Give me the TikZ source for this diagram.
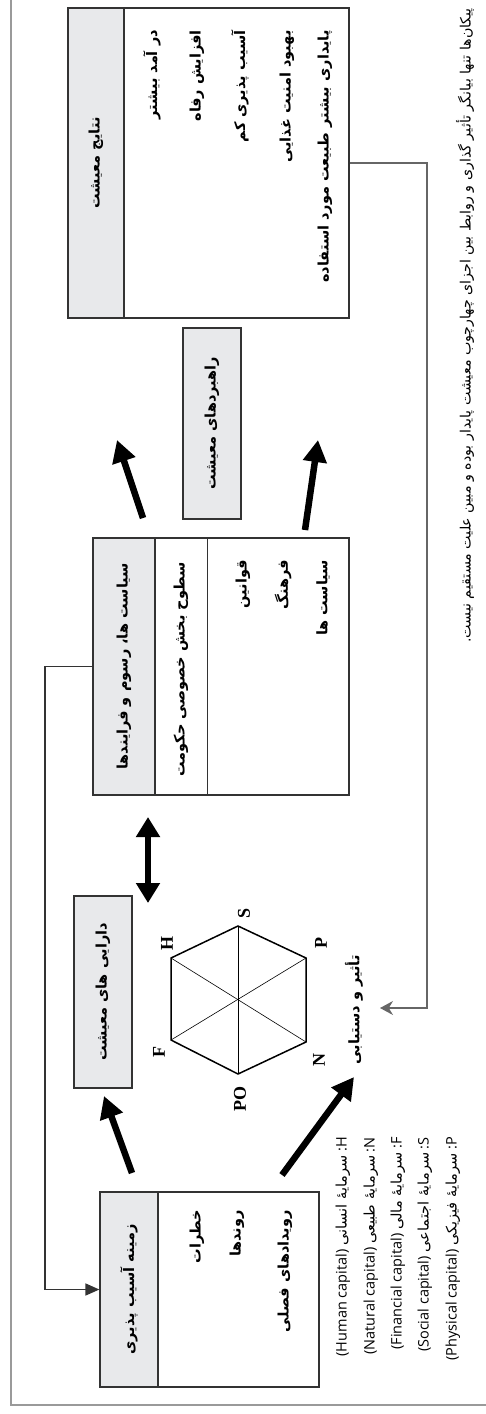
\documentclass[tikz,border=0pt]{standalone}
\usepackage{fontspec}
\setmainfont{Open Sans}
\newfontfamily\farsifont[Script=Arabic]{DejaVu Sans}
\newfontfamily\hexfont{Liberation Serif}
\TeXXeTstate=1
\usetikzlibrary{arrows.meta}
\newcommand{\FA}[1]{{\farsifont\beginR #1\endR}}
\newcommand{\FAB}[1]{{\farsifont\bfseries\beginR #1\endR}}
\definecolor{hdrgray}{HTML}{E8E9EB}
\definecolor{boxline}{HTML}{333333}
\definecolor{framegray}{HTML}{9A9A9A}
\definecolor{conngray}{HTML}{666666}
\begin{document}
\begin{tikzpicture}[x=1pt,y=-1pt,
  box/.style={draw=boxline,line width=1.2pt,inner sep=0pt,fill=white},
  hdr/.style={fill=hdrgray,draw=boxline,line width=1.2pt,inner sep=0pt},
  rt/.style={rotate=90,inner sep=0pt,font=\fontsize{14.5}{16}\selectfont},
  captext/.style={rotate=90,inner sep=0pt,font=\fontsize{14.2}{16}\selectfont},
  leg/.style={rotate=90,inner sep=0pt,font=\fontsize{14.5}{16}\selectfont},
  hexl/.style={rotate=90,inner sep=0pt,font=\hexfont\bfseries\fontsize{18}{18}\selectfont},
  bigarrow/.style={line width=6.5pt,-{Triangle[length=22pt,width=23pt]}},
  bigdouble/.style={line width=6.5pt,{Triangle[length=20pt,width=23pt]}-{Triangle[length=20pt,width=23pt]}},
  conn/.style={line width=1.2pt,conngray,-{Stealth[length=13pt,width=14pt]}},
  conndark/.style={line width=1.5pt,boxline,-{Triangle[length=14pt,width=12pt]}},
  hexedge/.style={line width=1.5pt,black},
  hexdiag/.style={line width=0.6pt,black}
]
\useasboundingbox (0,0) rectangle (485,1414);
% outer frame
\draw[framegray,line width=1.5pt] (11,-5) -- (11,1405) -- (490,1405);

% outcomes box
\node[box,minimum width=281pt,minimum height=310pt] (outcomes) at (208.5,163) {};
\node[hdr,minimum width=56pt,minimum height=310pt,anchor=north west] (outhdr) at (outcomes.north west) {};
\node[rt] (outtitle) at (outhdr.center) {\FAB{نتایج معیشت}};
\node[rt,anchor=east] (o1) at (152,30) {\FAB{در آمد بیشتر}};
\node[rt,anchor=east] (o2) at (197,30) {\FAB{افزایش رفاه}};
\node[rt,anchor=east] (o3) at (240,30) {\FAB{آسیب پذیری کم}};
\node[rt,anchor=east] (o4) at (287,30) {\FAB{بهبود امنیت غذایی}};
\node[rt,anchor=east] (o5) at (325,30) {\FAB{پایداری بیشتر طبیعت مورد استفاده}};

% strategies box
\node[hdr,minimum width=58pt,minimum height=191pt] (strat) at (212,423.5) {};
\node[rt] (strattext) at (strat.center) {\FAB{راهبردهای معیشت}};

% policies box
\node[box,minimum width=256pt,minimum height=257pt] (policies) at (221,666.5) {};
\node[hdr,minimum width=62pt,minimum height=257pt,anchor=north west] (polhdr) at (policies.north west) {};
\draw[boxline,line width=1.2pt] ([xshift=115pt]policies.north west) -- ([xshift=115pt]policies.south west);
\node[rt] (poltitle) at (polhdr.center) {\FAB{سیاست ها، رسوم و فرایندها}};
\node[rt,anchor=east] (p0) at (181,562) {\FAB{سطوح بخش خصوصی حکومت}};
\node[rt,anchor=east] (p1) at (243,560) {\FAB{قوانین}};
\node[rt,anchor=east] (p2) at (283,560) {\FAB{فرهنگ}};
\node[rt,anchor=east] (p3) at (323,560) {\FAB{سیاست ها}};

% assets box
\node[hdr,minimum width=58pt,minimum height=192pt] (assets) at (103,992) {};
\node[rt] (assetstext) at (assets.center) {\FAB{دارایی های معیشت}};

% hexagon
\coordinate (vS) at (238,926);
\coordinate (vP) at (306,958);
\coordinate (vN) at (306,1042);
\coordinate (vPO) at (238,1074);
\coordinate (vF) at (171,1040);
\coordinate (vH) at (171,958);
\draw[hexedge] (vS) -- (vP) -- (vN) -- (vPO) -- (vF) -- (vH) -- cycle;
\draw[hexdiag] (vS) -- (vPO);
\draw[hexdiag] (vH) -- (vN);
\draw[hexdiag] (vF) -- (vP);
\node[hexl] (lS) at (244,913) {S};
\node[hexl] (lH) at (167,943) {H};
\node[hexl] (lP) at (321,943) {P};
\node[hexl] (lF) at (159,1052) {F};
\node[hexl] (lN) at (319,1060) {N};
\node[hexl] (lPO) at (240,1099) {PO};
\node[rt] (access) at (354,1010) {\FAB{تأثیر و دستیابی}};

% vulnerability box
\node[box,minimum width=219pt,minimum height=195pt] (vuln) at (209.5,1289.5) {};
\node[hdr,minimum width=58pt,minimum height=195pt,anchor=north west] (vulnhdr) at (vuln.north west) {};
\node[rt] (vulntitle) at (vulnhdr.center) {\FAB{زمینه آسیب پذیری}};
\node[rt,anchor=east] (v1) at (197,1210) {\FAB{خطرات}};
\node[rt,anchor=east] (v2) at (237,1210) {\FAB{روندها}};
\node[rt,anchor=east] (v3) at (285,1210) {\FAB{رویدادهای فصلی}};

% legend
\node[leg,anchor=east] (l1) at (343,1137) {(Human capital) \FA{سرمایهٔ انسانی} :H};
\node[leg,anchor=east] (l2) at (371,1137) {(Natural capital) \FA{سرمایهٔ طبیعی} :N};
\node[leg,anchor=east] (l3) at (398,1137) {(Financial capital) \FA{سرمایهٔ مالی} :F};
\node[leg,anchor=east] (l4) at (425,1137) {(Social capital) \FA{سرمایهٔ اجتماعی} :S};
\node[leg,anchor=east] (l5) at (453,1137) {(Physical capital) \FA{سرمایهٔ فیزیکی} :P};

% caption
\node[captext,anchor=east] (caption) at (465,8) {\FA{پیکان^^^^200cها تنها بیانگر تأثیر گذاری و روابط بین اجزای چهارچوب معیشت پایدار بوده و مبین علیت مستقیم نیست.}};

% thick arrows
\coordinate (a1s) at (143,518); \coordinate (a1e) at (117,440);
\coordinate (a2s) at (305,530); \coordinate (a2e) at (318,440);
\coordinate (a3s) at (148,817); \coordinate (a3e) at (148,903);
\coordinate (a4s) at (132,1173); \coordinate (a4e) at (104,1096);
\coordinate (a5s) at (282,1175); \coordinate (a5e) at (354,1077);
\draw[bigarrow] (a1s) -- (a1e);
\draw[bigarrow] (a2s) -- (a2e);
\draw[bigdouble] (a3s) -- (a3e);
\draw[bigarrow] (a4s) -- (a4e);
\draw[bigarrow] (a5s) -- (a5e);

% thin connectors
\coordinate (c1) at (427,163);
\coordinate (c2) at (380,1008);
\draw[conn] (outcomes.east) -- (c1) |- (c2);
\coordinate (c3) at (45,666.5);
\draw[conndark] (policies.west) -- (c3) |- (vuln.west);
\end{tikzpicture}
\end{document}
